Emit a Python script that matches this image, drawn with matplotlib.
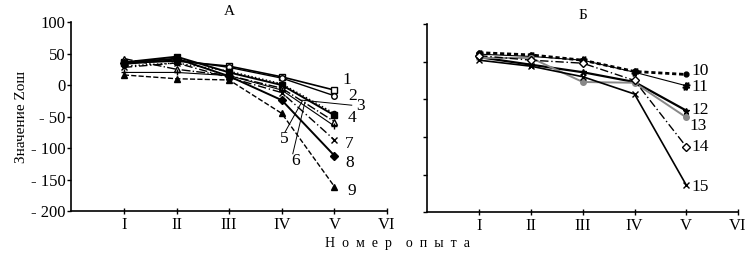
import matplotlib
matplotlib.use('Agg')
from matplotlib import pyplot as plt

plt.rcParams['font.family'] = ['Liberation Serif', 'DejaVu Serif']

experiments = [1, 2, 3, 4, 5]
roman = ['I', 'II', 'III', 'IV', 'V', 'VI']

# panel A, series 1..9
a_values = {
    '1': [35, 38, 30, 13, -8],
    '2': [33, 40, 28, 11, -17],
    '3': [30, 35, 22, 2, -45],
    '4': [36, 45, 20, 0, -48],
    '5': [42, 25, 15, -5, -58],
    '6': [20, 20, 15, -8, -65],
    '7': [28, 35, 12, -12, -87],
    '8': [35, 42, 14, -24, -112],
    '9': [16, 10, 8, -45, -161],
}
# panel Б, series 10..15
b_values = {
    '10': [62, 59, 52, 37, 33],
    '11': [60, 57, 52, 36, 18],
    '12': [56, 46, 36, 23, -15],
    '13': [55, 55, 23, 22, -24],
    '14': [58, 52, 48, 25, -63],
    '15': [52, 44, 30, 7, -114],
}

a_styles = {
    '1': dict(marker='s', mfc='white', ls='-', lw=1.2),
    '2': dict(marker='o', mfc='white', ls='-', lw=1.0),
    '3': dict(marker='o', ms=3, ls=':', lw=1.0),
    '4': dict(marker='s', ls='-', lw=1.4),
    '5': dict(marker='^', mfc='white', ls='-.', lw=1.0),
    '6': dict(marker='+', ls='-', lw=0.8),
    '7': dict(marker='x', ls=(0, (6, 2, 1, 2)), lw=1.0),
    '8': dict(marker='D', ls='-', lw=1.4),
    '9': dict(marker='^', ls='--', lw=1.0),
}
b_styles = {
    '10': dict(marker='o', ms=3.5, ls=(0, (1.5, 1)), lw=2.0, color='black'),
    '11': dict(marker='$\\#$', ms=5, ls='-', lw=0.8, color='black'),
    '12': dict(marker='*', ms=5, ls='-', lw=1.6, color='black'),
    '13': dict(marker='o', ms=4, ls='-', lw=1.4, color='#888888'),
    '14': dict(marker='D', ms=4, mfc='white', ls=(0, (6, 2, 1, 2)), lw=1.0, color='black'),
    '15': dict(marker='x', ms=4, ls='-', lw=1.2, color='black'),
}

a_label_pos = {'1': (5.16, 8), '2': (5.26, -17), '3': (5.42, -33), '4': (5.26, -52),
               '5': (3.97, -85), '6': (4.19, -120), '7': (5.2, -93), '8': (5.2, -123),
               '9': (5.24, -168)}
b_label_pos = {'10': (5.04, 37), '11': (5.04, 17), '12': (5.04, -14), '13': (5.0, -36),
               '14': (5.04, -64), '15': (5.04, -116)}


def style_axis(ax, ylim, yticks, show_labels):
    ax.set_xlim(0, 6)
    ax.set_ylim(*ylim)
    ax.spines['top'].set_visible(False)
    ax.spines['right'].set_visible(False)
    ax.set_xticks(range(1, 7))
    ax.set_xticklabels(roman, fontsize=12)
    ax.set_yticks(yticks)
    if show_labels:
        ax.set_yticklabels([str(t).replace('-', '- ') for t in yticks], fontsize=12)
    else:
        ax.set_yticklabels([])
    ax.tick_params(axis='x', direction='inout', length=5, width=1, pad=2)
    ax.tick_params(axis='y', direction='out', length=3, width=1, pad=1)
    for s in ('left', 'bottom'):
        ax.spines[s].set_linewidth(1.2)


fig = plt.figure(figsize=(7.5, 2.59), dpi=100)
ax_a = fig.add_axes([0.095, 0.185, 0.421, 0.73])
ax_b = fig.add_axes([0.570, 0.181, 0.414, 0.726])

for key, vals in a_values.items():
    st = dict(color='black', ms=4)
    st.update(a_styles[key])
    ax_a.plot(experiments, vals, **st)
    x, y = a_label_pos[key]
    ax_a.text(x, y, key, fontsize=12.5, ha='left', va='center')

# leader lines for labels 3, 5, 6
ax_a.plot([4.38, 5.33], [-24, -32], color='black', lw=0.7)
ax_a.plot([4.06, 4.38], [-75, -27], color='black', lw=0.7)
ax_a.plot([4.21, 4.44], [-109, -27], color='black', lw=0.7)

for key, vals in b_values.items():
    ax_b.plot(experiments, vals, **b_styles[key])
    x, y = b_label_pos[key]
    ax_b.text(x + 0.06, y, key, fontsize=12.5, ha='left', va='center')

style_axis(ax_a, (-200, 100), [100, 50, 0, -50, -100, -150, -200], True)
style_axis(ax_b, (-150, 100), [100, 50, 0, -50, -100, -150], False)

ax_a.set_ylabel('Значение Zош', fontsize=11, labelpad=2)
ax_a.set_title('А', fontsize=11, pad=5)
ax_b.set_title('Б', fontsize=11, pad=4)
fig.text(0.53, 0.06, 'Н  о  м  е  р    о  п  ы  т  а', fontsize=10, ha='center', va='center')

fig.savefig('out.png', dpi=100)
plt.close()
